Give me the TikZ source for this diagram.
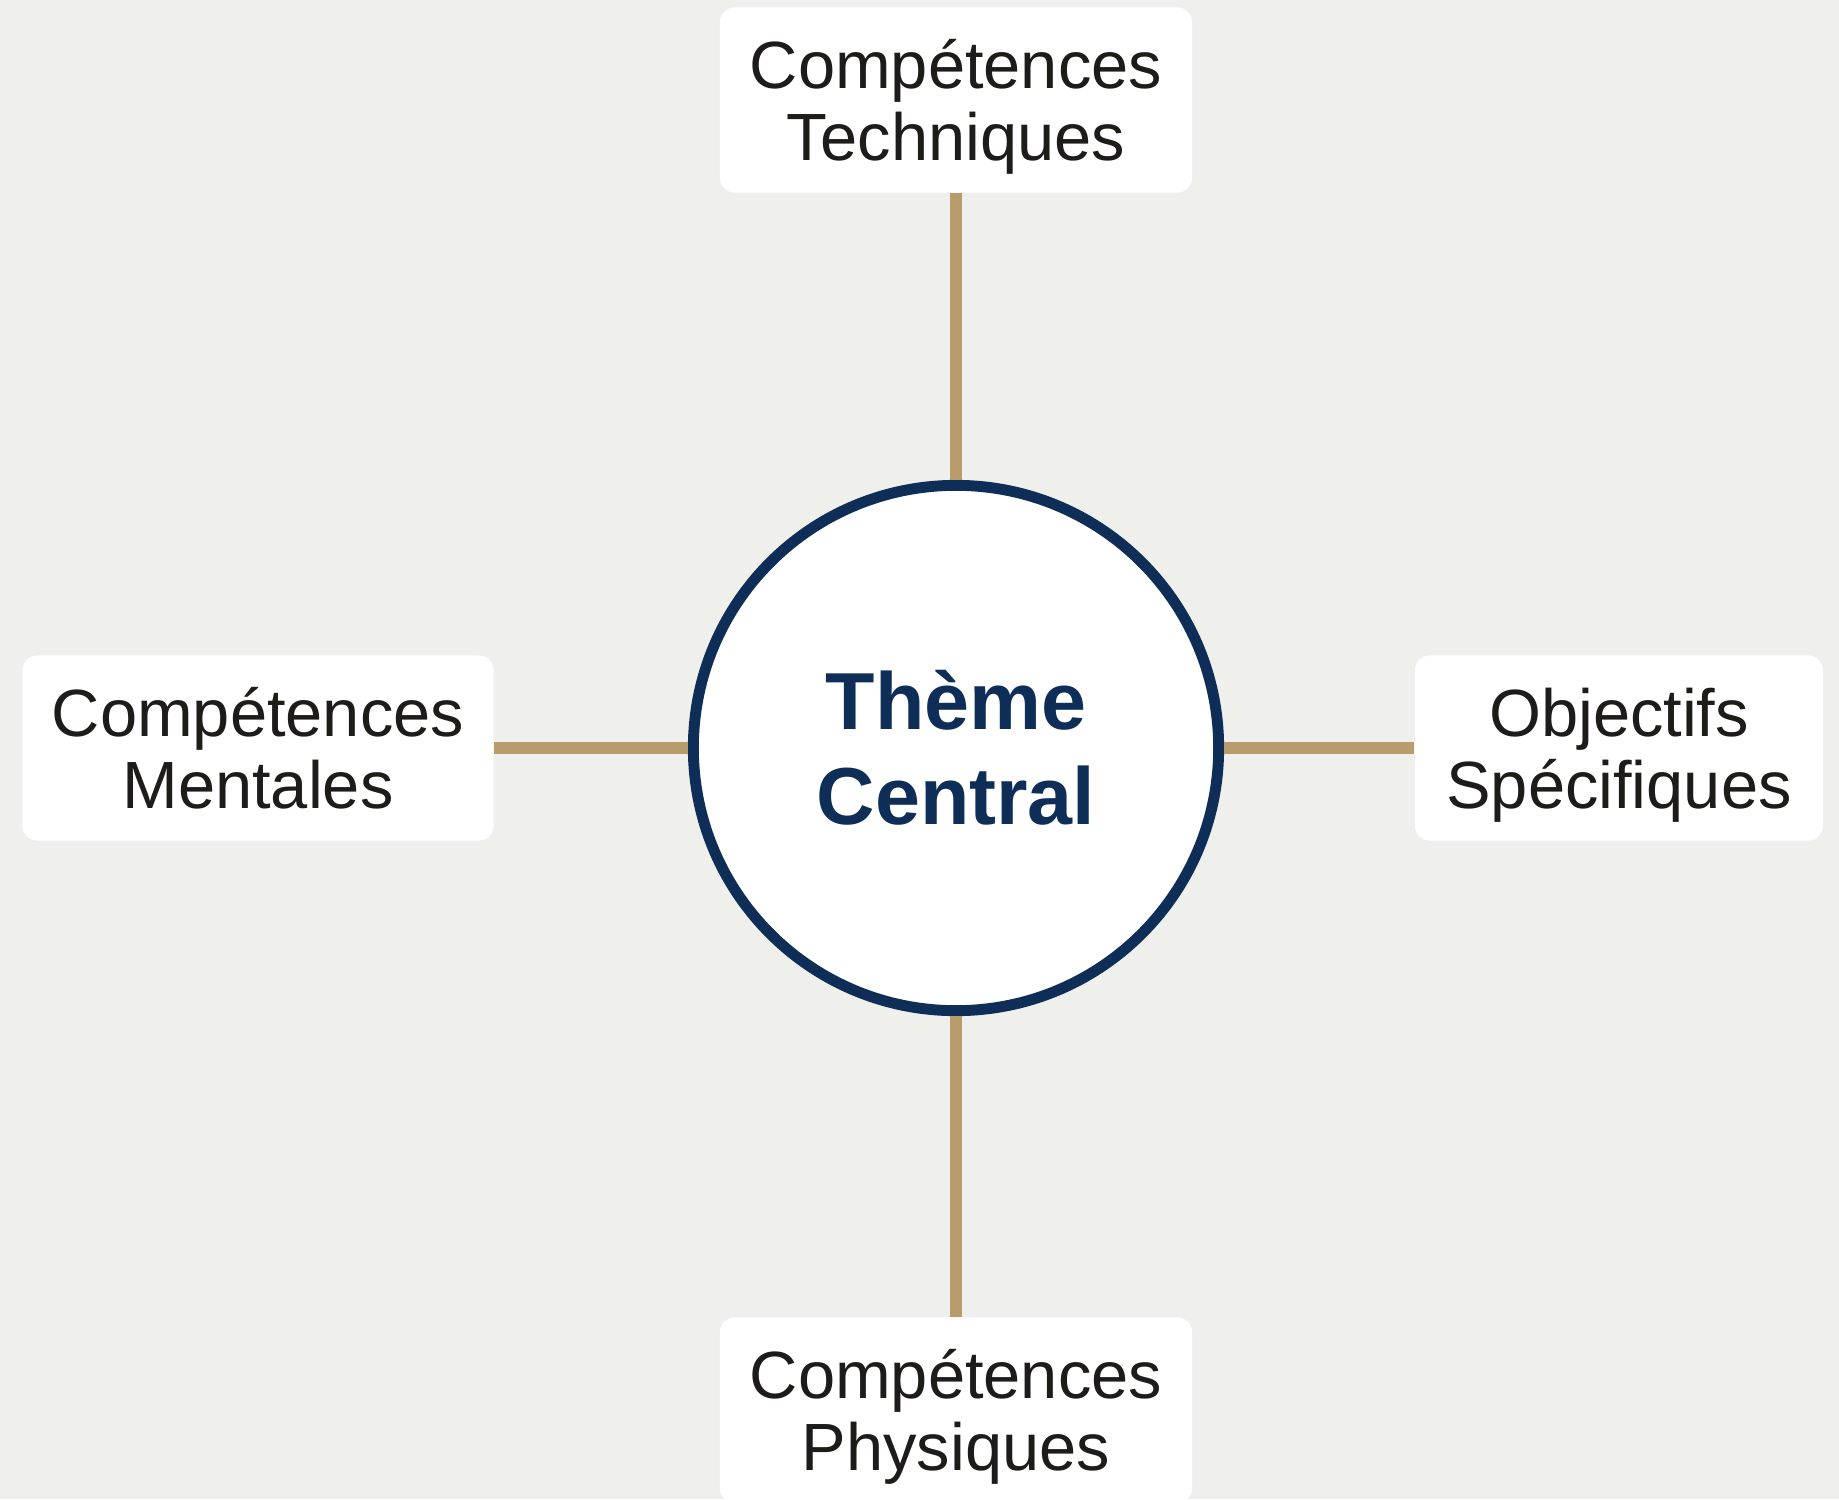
\documentclass[tikz,border=0pt]{standalone}
\usepackage{fontspec}
\setmainfont{Liberation Sans}
\definecolor{fond}{HTML}{EFEFEB}
\definecolor{marine}{HTML}{0E2D57}
\definecolor{sable}{HTML}{B99C6B}
\definecolor{encre}{HTML}{1E1C19}

\begin{document}
\begin{tikzpicture}[x=0.01cm,y=-0.01cm,
  theme/.style = {circle,draw=marine,line width=3.1pt,fill=white,minimum size=5.25cm,text=marine,
                  font=\fontsize{23}{27}\selectfont\bfseries,align=center},
  branch/.style = {rectangle,rounded corners=0.15cm,fill=white,minimum height=1.85cm,text=encre,
                   font=\fontsize{19}{20.5}\selectfont,align=center,text depth=0pt},
  link/.style = {draw=sable,line width=3.4pt}]
\fill[fond] (0,0) rectangle (1839,1499);
\useasboundingbox (0,0) rectangle (1839,1499);
\node[theme] (centre) at (956,748) {Thème\\Central};
\node[branch,minimum width=4.72cm] (tech) at (956,100) {Compétences\\Techniques};
\node[branch,minimum width=4.71cm] (ment) at (258,748) {Compétences\\Mentales};
\node[branch,minimum width=4.08cm] (obj)  at (1619,748) {Objectifs\\Spécifiques};
\node[branch,minimum width=4.72cm] (phys) at (956,1410) {Compétences\\Physiques};
\draw[link] (tech) -- (centre);
\draw[link] (ment) -- (centre);
\draw[link] (obj)  -- (centre);
\draw[link] (phys) -- (centre);
\end{tikzpicture}
\end{document}
